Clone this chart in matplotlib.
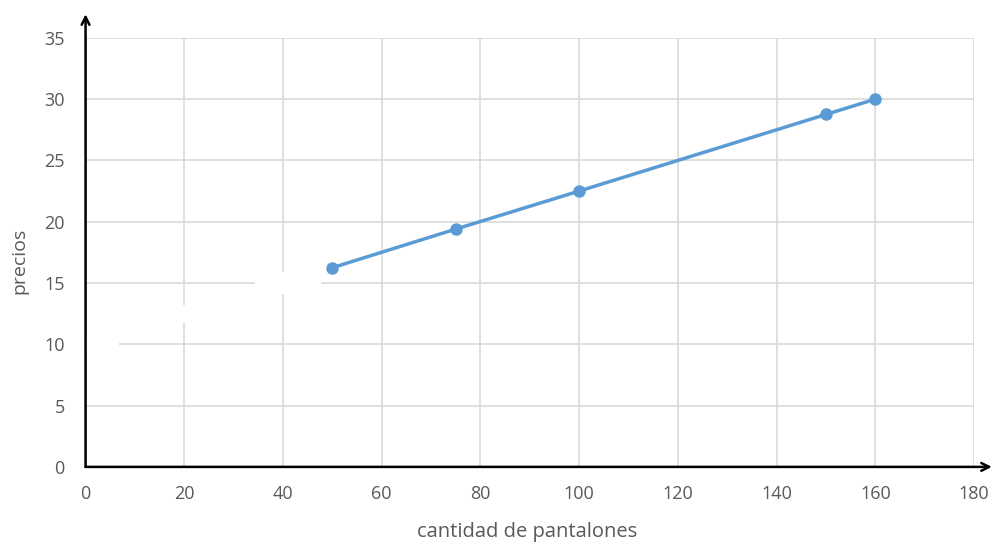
import matplotlib.pyplot as plt
from matplotlib.patches import Rectangle

# datos
cantidad = [50, 75, 100, 150, 160]
precios = [16.25, 19.4, 22.5, 28.75, 30]
xticks = [0, 20, 40, 60, 80, 100, 120, 140, 160, 180]
yticks = [0, 5, 10, 15, 20, 25, 30, 35]

plt.rcParams['font.family'] = ['Open Sans', 'DejaVu Sans']

fig = plt.figure(figsize=(9.95, 5.48), dpi=100)
ax = fig.add_axes([0.086, 0.148, 0.893, 0.783])

ax.plot(cantidad, precios, color='#5B9BD5', linewidth=2.5, marker='o',
        markersize=8, zorder=5, clip_on=False)

ax.set_xlim(0, 180)
ax.set_ylim(0, 35)
ax.set_xticks(xticks)
ax.set_yticks(yticks)
ax.grid(True, color='#D9D9D9', linewidth=1.2)
ax.set_axisbelow(True)
for s in ax.spines.values():
    s.set_visible(False)
ax.tick_params(length=0, labelsize=13, colors='#595959')
ax.tick_params(axis='x', pad=13)
ax.tick_params(axis='y', pad=15)

# zonas borradas de la rejilla
borrado = [(34.3, 14.6, 13.3, 1.0), (0.1, 9.6, 6.6, 0.8),
           (19.0, 11.7, 2.0, 1.5), (39.0, 14.1, 2.0, 1.8)]
for bx, by, bw, bh in borrado:
    ax.add_patch(Rectangle((bx, by), bw, bh, facecolor='white',
                           edgecolor='none', zorder=2))

# ejes con flecha
ax.annotate('', xy=(0, 1.055), xytext=(0, 0), xycoords='axes fraction',
            arrowprops=dict(arrowstyle='->', color='black', lw=1.8,
                            mutation_scale=14, shrinkA=0, shrinkB=0))
ax.annotate('', xy=(1.02, 0), xytext=(0, 0), xycoords='axes fraction',
            arrowprops=dict(arrowstyle='->', color='black', lw=1.8,
                            mutation_scale=14, shrinkA=0, shrinkB=0))

ax.set_xlabel('cantidad de pantalones', fontsize=14.5, color='#595959')
ax.set_ylabel('precios', fontsize=14, color='#595959')
ax.xaxis.set_label_coords(0.497, -0.128)
ax.yaxis.set_label_coords(-0.064, 0.48)

fig.savefig('out.png', dpi=100)
